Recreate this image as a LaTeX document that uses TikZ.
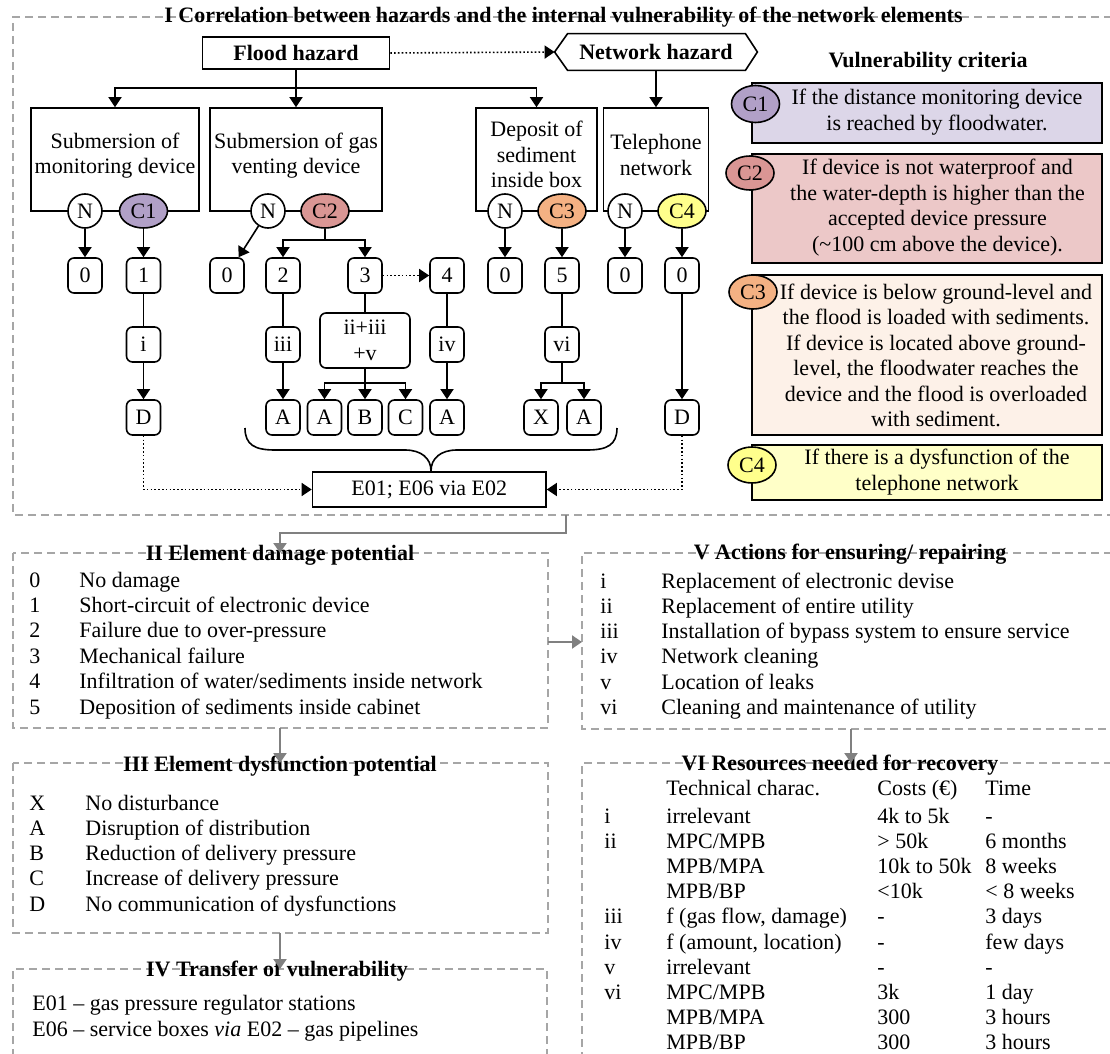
\documentclass[tikz,border=0pt]{standalone}
\usepackage{fontspec}
\setmainfont{Liberation Serif}
\usetikzlibrary{arrows.meta,shapes.geometric}
\definecolor{pgray}{HTML}{A6A6A6}
\definecolor{agray}{HTML}{808080}
\definecolor{cA}{HTML}{B1A0C7}
\definecolor{cB}{HTML}{DA9694}
\definecolor{cC}{HTML}{F4B183}
\definecolor{cD}{HTML}{FFFF8C}
\definecolor{bA}{HTML}{DCD6E8}
\definecolor{bB}{HTML}{ECC8C8}
\definecolor{bC}{HTML}{FDF1E8}
\definecolor{bD}{HTML}{FFFFC8}
\begin{document}
\begin{tikzpicture}[x=0.5pt,y=-0.5pt,
 every node/.style={font=\fontsize{11}{12.7}\selectfont, inner sep=0pt},
 ln/.style={line width=0.8pt},
 arr/.style={ln,-{Triangle[length=5pt,width=6.5pt]}},
 dotarr/.style={ln,dash pattern=on 0.8pt off 1.1pt,-{Triangle[length=5pt,width=6.5pt]}},
 garr/.style={draw=agray,line width=1.1pt,-{Triangle[length=5pt,width=6.5pt]}},
 panel/.style={draw=pgray,line width=0.7pt,dash pattern=on 4pt off 2.5pt},
 ptitle/.style={font=\fontsize{11}{12.7}\selectfont\bfseries,anchor=base},
 sbox/.style={draw,ln},
 numbox/.style={draw,ln,rounded corners=3pt,minimum width=17pt,minimum height=17.5pt},
 ncirc/.style={draw,ln,circle,fill=white,minimum size=17pt},
 cell/.style={draw,ln,ellipse,minimum width=24pt,minimum height=17pt},
 cbox/.style={draw,ln,minimum width=175pt},
 item/.style={anchor=base west}
]
\useasboundingbox (0,0) rectangle (1110,1054);

% ---------------- Panel I ----------------
\draw[panel] (1125,17) -- (13,17) -- (13,515) -- (1125,515);
\node[ptitle] (tI) at (563.5,23) {I Correlation between hazards and the internal vulnerability of the network elements};

\node[draw,ln,minimum width=93.5pt,minimum height=16pt,font=\fontsize{11}{12.7}\selectfont\bfseries] (flood) at (296,53) {Flood hazard};
\node[minimum width=101pt,minimum height=18pt,font=\fontsize{11}{12.7}\selectfont\bfseries] (net) at (656,52) {Network hazard};
\draw[ln] (net.west) -- ([xshift=6.5pt]net.north west) -- ([xshift=-6pt]net.north east) -- (net.east) -- ([xshift=-6pt]net.south east) -- ([xshift=6.5pt]net.south west) -- cycle;
\draw[dotarr] (flood.east) -- (net.west);

% scenario boxes
\node[sbox,minimum width=84pt,minimum height=51.5pt] (B1) at (115,159.5) {};
\node[sbox,minimum width=86pt,minimum height=51.5pt] (B2) at (296,159.5) {};
\node[sbox,minimum width=60.5pt,minimum height=51.5pt] (B3) at (536.5,159.5) {};
\node[sbox,minimum width=52.5pt,minimum height=51.5pt] (B4) at (656,159.5) {};
\node[align=center] (T1) at (115,155.5) {Submersion of\\monitoring device};
\node[align=center] (T2) at (296,155.5) {Submersion of gas\\venting device};
\node[align=center] (T3) at (536.5,154.5) {Deposit of\\sediment\\inside box};
\node[align=center] (T4) at (656,155) {Telephone\\network};

\coordinate (fj) at (296,88);
\draw[ln] (flood.south) -- (fj);
\draw[arr] (fj) -| (B1.north);
\draw[arr] (fj) -- (B2.north);
\draw[arr] (fj) -| (B3.north);
\draw[arr] (net.south) -- (B4.north);

% criteria circles
\node[ncirc] (N1) at (85,211) {N};
\node[cell,fill=cA] (K1) at (143.5,211) {C1};
\node[ncirc] (N2) at (268,211) {N};
\node[cell,fill=cB] (K2) at (325,211) {C2};
\node[ncirc] (N3) at (505,211) {N};
\node[cell,fill=cC] (K3) at (562,211) {C3};
\node[ncirc] (N4) at (625,211) {N};
\node[cell,fill=cD] (K4) at (682,211) {C4};

% damage boxes
\node[numbox] (z1) at (85,275.5) {0};
\node[numbox] (o1) at (143.5,275.5) {1};
\node[numbox] (z2) at (227,275.5) {0};
\node[numbox] (d2) at (283,275.5) {2};
\node[numbox] (d3) at (365,275.5) {3};
\node[numbox] (d4) at (447,275.5) {4};
\node[numbox] (z3) at (505,275.5) {0};
\node[numbox] (d5) at (562,275.5) {5};
\node[numbox] (z4) at (625,275.5) {0};
\node[numbox] (z5) at (682,275.5) {0};

\draw[arr] (N1) -- (z1);
\draw[arr] (K1) -- (o1);
\draw[arr] (N2) -- (z2);
\coordinate (c2j) at (325,240);
\draw[ln] (K2) -- (c2j);
\draw[arr] (c2j) -| (d2);
\draw[arr] (c2j) -| (d3);
\draw[dotarr] (d3) -- (d4);
\draw[arr] (N3) -- (z3);
\draw[arr] (K3) -- (d5);
\draw[arr] (N4) -- (z4);
\draw[arr] (K4) -- (z5);

% action boxes
\node[numbox] (r1) at (143.5,344.5) {i};
\node[numbox] (r2) at (283,344.5) {iii};
\node[numbox,minimum width=45pt,minimum height=27.5pt,align=center] (r3) at (365,340.5) {ii+iii\\+v};
\node[numbox] (r4) at (447,344.5) {iv};
\node[numbox] (r5) at (562,344.5) {vi};

% dysfunction boxes
\node[numbox] (D1) at (143.5,417.5) {D};
\node[numbox] (A1) at (283,417.5) {A};
\node[numbox] (A2) at (324.5,417.5) {A};
\node[numbox] (Bx) at (365,417.5) {B};
\node[numbox] (Cx) at (405.5,417.5) {C};
\node[numbox] (A3) at (447,417.5) {A};
\node[numbox] (X1) at (541,417.5) {X};
\node[numbox] (A4) at (584,417.5) {A};
\node[numbox] (D2) at (682,417.5) {D};

\draw[ln] (o1) -- (r1);
\draw[arr] (r1) -- (D1);
\draw[ln] (d2) -- (r2);
\draw[arr] (r2) -- (A1);
\draw[ln] (d3) -- (r3);
\coordinate (bj) at (365,383);
\draw[ln] (r3) -- (bj);
\draw[arr] (bj) -| (A2);
\draw[arr] (bj) -- (Bx);
\draw[arr] (bj) -| (Cx);
\draw[ln] (d4) -- (r4);
\draw[arr] (r4) -- (A3);
\draw[ln] (d5) -- (r5);
\coordinate (vj) at (562,383);
\draw[ln] (r5) -- (vj);
\draw[arr] (vj) -| (X1);
\draw[arr] (vj) -| (A4);
\draw[arr] (z5) -- (D2);

% transfer box and brace
\node[draw,ln,minimum width=116.75pt,minimum height=17.5pt] (E) at (429.25,489.5) {E01; E06 via E02};
\draw[ln] (245,428) .. controls (245,445) and (255,450) .. (275,450) -- (405,450)
  .. controls (421,450) and (431,458) .. (431,471);
\draw[ln] (431,471) .. controls (431,458) and (441,450) .. (457,450) -- (587,450)
  .. controls (607,450) and (617,445) .. (617,428);
\draw[dotarr] (D1) |- (E);
\draw[dotarr] (D2) |- (E);

% vulnerability criteria
\node[ptitle] (vc) at (928,68) {Vulnerability criteria};
\node[cbox,fill=bA,minimum height=30pt] (CB1) at (927,113) {};
\node[align=center] (CT1) at (937,112) {If the distance monitoring device\\is reached by floodwater.};
\node[cell,fill=cA,minimum height=18.5pt] (CE1) at (755.5,104) {C1};
\node[cbox,fill=bB,minimum height=54.5pt] (CB2) at (927,208.5) {};
\node[align=center] (CT2) at (937.5,207.5) {If device is not waterproof and\\the water-depth is higher than the\\accepted device pressure\\(\textasciitilde100 cm above the device).};
\node[cell,fill=cB] (CE2) at (750,173) {C2};
\node[cbox,fill=bC,minimum height=80pt] (CB3) at (927,355) {};
\node[align=center] (CT3) at (936,355.5) {If device is below ground-level and\\the flood is loaded with sediments.\\If device is located above ground-\\level, the floodwater reaches the\\device and the flood is overloaded\\with sediment.};
\node[cell,fill=cC] (CE3) at (753,292) {C3};
\node[cbox,fill=bD,minimum height=27.5pt] (CB4) at (927,472.5) {};
\node[align=center] (CT4) at (937,472) {If there is a dysfunction of the\\telephone network};
\node[cell,fill=cD,minimum height=18pt] (CE4) at (752,465) {C4};

% ---------------- Panel II ----------------
\draw[panel] (13,553) rectangle (548,728);
\node[ptitle] (tII) at (280,560) {II Element damage potential};
\node[item] (a0) at (29,587) {0};      \node[item] (b0) at (79,587) {No damage};
\node[item] (a1) at (29,612.4) {1};    \node[item] (b1) at (79,612.4) {Short-circuit of electronic device};
\node[item] (a2) at (29,637.8) {2};    \node[item] (b2) at (79,637.8) {Failure due to over-pressure};
\node[item] (a3) at (29,663.2) {3};    \node[item] (b3) at (79,663.2) {Mechanical failure};
\node[item] (a4) at (29,688.6) {4};    \node[item] (b4) at (79,688.6) {Infiltration of water/sediments inside network};
\node[item] (a5) at (29,714) {5};      \node[item] (b5) at (79,714) {Deposition of sediments inside cabinet};

% ---------------- Panel III ----------------
\draw[panel] (13,763) rectangle (548,933);
\node[ptitle] (tIII) at (280,771) {III Element dysfunction potential};
\node[item] (e0) at (29,810) {X};      \node[item] (f0) at (85,810) {No disturbance};
\node[item] (e1) at (29,835.3) {A};    \node[item] (f1) at (85,835.3) {Disruption of distribution};
\node[item] (e2) at (29,860.6) {B};    \node[item] (f2) at (85,860.6) {Reduction of delivery pressure};
\node[item] (e3) at (29,885.9) {C};    \node[item] (f3) at (85,885.9) {Increase of delivery pressure};
\node[item] (e4) at (29,911.2) {D};    \node[item] (f4) at (85,911.2) {No communication of dysfunctions};

% ---------------- Panel IV ----------------
\draw[panel] (13,1070) -- (13,969) -- (547,969) -- (547,1070);
\node[ptitle] (tIV) at (277,976) {IV Transfer of vulnerability};
\node[item] (g0) at (32,1010) {E01 -- gas pressure regulator stations};
\node[item] (g1) at (32,1036) {E06 -- service boxes \textit{via} E02 -- gas pipelines};

% ---------------- Panel V ----------------
\draw[panel] (1125,553) -- (582,553) -- (582,729) -- (1125,729);
\node[ptitle] (tV) at (850,559) {V Actions for ensuring/ repairing};
\node[item] (h0) at (600,588) {i};      \node[item] (k0) at (661,588) {Replacement of electronic devise};
\node[item] (h1) at (600,613.3) {ii};   \node[item] (k1) at (661,613.3) {Replacement of entire utility};
\node[item] (h2) at (600,638.6) {iii};  \node[item] (k2) at (661,638.6) {Installation of bypass system to ensure service};
\node[item] (h3) at (600,663.9) {iv};   \node[item] (k3) at (661,663.9) {Network cleaning};
\node[item] (h4) at (600,689.2) {v};    \node[item] (k4) at (661,689.2) {Location of leaks};
\node[item] (h5) at (600,714.5) {vi};   \node[item] (k5) at (661,714.5) {Cleaning and maintenance of utility};

% ---------------- Panel VI ----------------
\draw[panel] (1125,763) -- (582,763) -- (582,1070);
\node[ptitle] (tVI) at (840,770) {VI Resources needed for recovery};
\node[item] (q1) at (666,795) {Technical charac.};
\node[item] (q2) at (877,795) {Costs (€)};
\node[item] (q3) at (985,795) {Time};
\node[item] (s0) at (604,823) {i};     \node[item] (u0) at (666,823) {irrelevant};           \node[item] (v0) at (877,823) {4k to 5k};   \node[item] (w0) at (985,823) {-};
\node[item] (s1) at (604,848.2) {ii};  \node[item] (u1) at (666,848.2) {MPC/MPB};            \node[item] (v1) at (877,848.2) {> 50k};    \node[item] (w1) at (985,848.2) {6 months};
                                       \node[item] (u2) at (666,873.4) {MPB/MPA};            \node[item] (v2) at (877,873.4) {10k to 50k};\node[item] (w2) at (985,873.4) {8 weeks};
                                       \node[item] (u3) at (666,898.6) {MPB/BP};             \node[item] (v3) at (877,898.6) {<10k};     \node[item] (w3) at (985,898.6) {< 8 weeks};
\node[item] (s4) at (604,923.8) {iii}; \node[item] (u4) at (666,923.8) {f (gas flow, damage)}; \node[item] (v4) at (877,923.8) {-};       \node[item] (w4) at (985,923.8) {3 days};
\node[item] (s5) at (604,949) {iv};    \node[item] (u5) at (666,949) {f (amount, location)};  \node[item] (v5) at (877,949) {-};         \node[item] (w5) at (985,949) {few days};
\node[item] (s6) at (604,974.2) {v};   \node[item] (u6) at (666,974.2) {irrelevant};          \node[item] (v6) at (877,974.2) {-};       \node[item] (w6) at (985,974.2) {-};
\node[item] (s7) at (604,999.4) {vi};  \node[item] (u7) at (666,999.4) {MPC/MPB};             \node[item] (v7) at (877,999.4) {3k};      \node[item] (w7) at (985,999.4) {1 day};
                                       \node[item] (u8) at (666,1024.6) {MPB/MPA};            \node[item] (v8) at (877,1024.6) {300};    \node[item] (w8) at (985,1024.6) {3 hours};
                                       \node[item] (u9) at (666,1049.8) {MPB/BP};             \node[item] (v9) at (877,1049.8) {300};    \node[item] (w9) at (985,1049.8) {3 hours};

% ---------------- grey connectors ----------------
\coordinate (pIb) at (566,515);
\coordinate (pIIt) at (280,553);
\coordinate (pIIb) at (280,728);
\coordinate (pIIIt) at (280,763);
\coordinate (pIIIb) at (280,933);
\coordinate (pIVt) at (280,969);
\coordinate (pIIr) at (548,642);
\coordinate (pVl) at (582,642);
\coordinate (pVb) at (851,729);
\coordinate (pVIt) at (851,763);
\draw[garr] (pIb) -- ++(0,18) -| (pIIt);
\draw[garr] (pIIb) -- (pIIIt);
\draw[garr] (pIIIb) -- (pIVt);
\draw[garr] (pIIr) -- (pVl);
\draw[garr] (pVb) -- (pVIt);
\end{tikzpicture}
\end{document}
